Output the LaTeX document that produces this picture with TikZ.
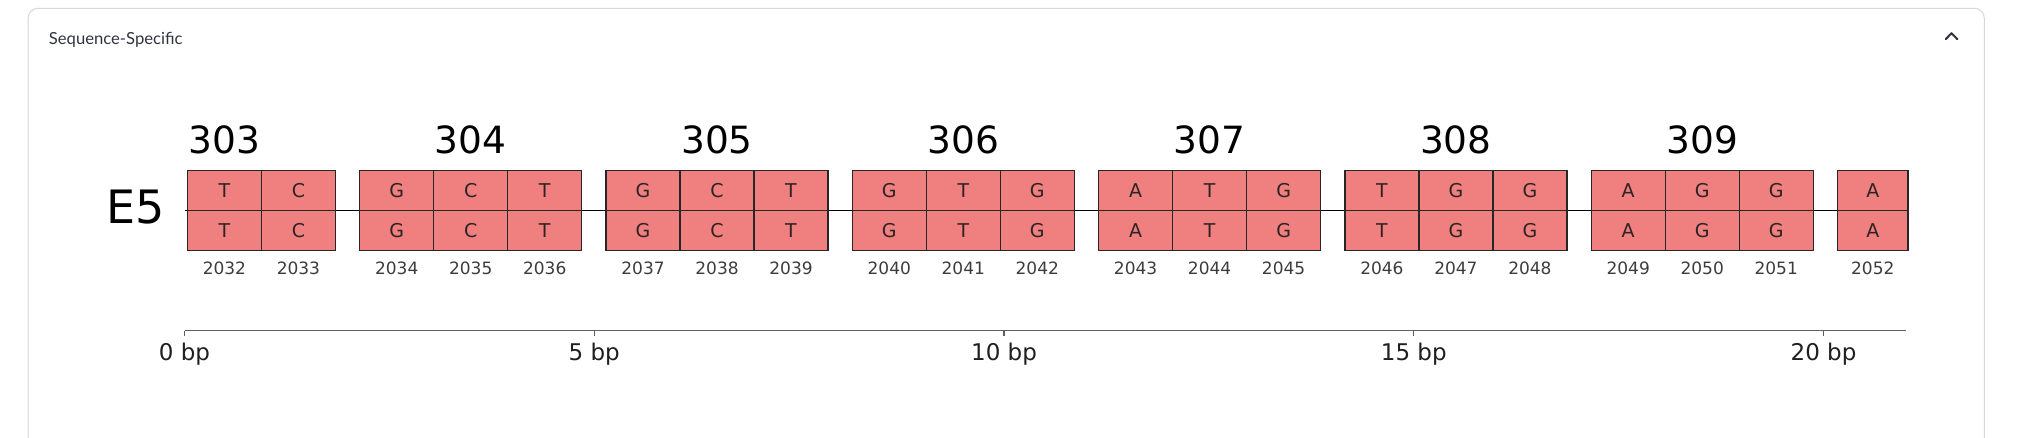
\documentclass[tikz,border=0pt]{standalone}
\usepackage{fontspec}
\setmainfont{DejaVu Sans}
\newfontfamily\uifont{Lato}
\definecolor{cellred}{RGB}{240,128,128}
\definecolor{cardline}{RGB}{214,214,218}
\definecolor{uitext}{RGB}{49,51,63}
\definecolor{basetext}{RGB}{45,35,35}
\definecolor{postext}{RGB}{60,60,60}
\definecolor{axisgray}{RGB}{95,95,95}
\tikzset{
  cell/.style={draw=black!85, line width=1.4pt, fill=cellred, minimum height=40pt,
    inner sep=0pt, outer sep=0pt, anchor=north west, text=basetext,
    font=\fontsize{19}{19}\selectfont},
  poslabel/.style={text=postext, font=\fontsize{17}{17}\selectfont, inner sep=0pt, anchor=base},
  codonlabel/.style={font=\fontsize{37.5}{38}\selectfont, inner sep=0pt, anchor=base},
  ticklabel/.style={font=\fontsize{23}{23}\selectfont, anchor=base, inner sep=0pt, text=black!88},
  trackline/.style={draw=black, line width=1pt},
  axisline/.style={draw=axisgray, line width=1.5pt},
}
\begin{document}
\begin{tikzpicture}[x=1pt,y=-1pt]
\clip (0,0) rectangle (2017,437);
% card
\draw[cardline, line width=1pt, rounded corners=10pt] (28,8.3) rectangle (1984.3,480);
\node[anchor=base west, inner sep=0pt, text=uitext] (title) at (48.7,44.3)
  {\resizebox{133.6pt}{!}{\uifont Sequence-Specific}};
\coordinate (chevL) at (1945.7,39.2);
\coordinate (chevT) at (1951.5,33.2);
\coordinate (chevR) at (1957.3,39.2);
\draw[uitext, line width=2pt, line cap=round, line join=round] (chevL) -- (chevT) -- (chevR);
% track line
\coordinate (trackL) at (184.5,210.7);
\coordinate (trackR) at (1907,210.7);
\draw[trackline] (trackL) -- (trackR);
% track label
\node[anchor=base east, font=\fontsize{46}{46}\selectfont, inner sep=0pt] (E5) at (164.8,223.3) {E5};
% cells
\coordinate (baseRow) at (0,274);
\foreach \b [count=\n from 0] in {T,C,G,C,T,G,C,T,G,T,G,A,T,G,T,G,G,A,G,G,A} {
  \pgfmathtruncatemacro\g{\n+1}
  \pgfmathtruncatemacro\k{floor(\g/3)}
  \pgfmathtruncatemacro\j{\g-3*\k}
  \pgfmathsetmacro\xx{113.4+246.3*\k+74*\j}
  \pgfmathtruncatemacro\pos{2032+\n}
  \def\cw{74}
  \ifnum\n=20 \def\cw{70.5}\fi
  \node[cell, minimum width=\cw pt] (top\pos) at (\xx,170.7) {\b};
  \node[cell, minimum width=\cw pt] (bot\pos) at (\xx,210.7) {\b};
  \node[poslabel] (lab\pos) at (bot\pos.south |- baseRow) {\pos};
}
% codon numbers
\foreach \c [count=\k from 0] in {303,304,305,306,307,308,309} {
  \pgfmathsetmacro\xx{224.4+246.3*\k}
  \node[codonlabel] (codon\c) at (\xx,153) {\c};
}
% axis
\coordinate (axL) at (184.5,330.5);
\coordinate (axR) at (1906,330.5);
\draw[axisline] (axL) -- (axR);
\foreach \t in {0,5,10,15,20} {
  \pgfmathsetmacro\xx{184.5+81.95*\t}
  \coordinate (tick\t) at (\xx,330.5);
  \draw[axisline, line width=1.3pt] (tick\t) -- ++(0,5.5);
  \node[ticklabel] (tl\t) at (\xx,360) {\t\ bp};
}
\end{tikzpicture}
\end{document}
